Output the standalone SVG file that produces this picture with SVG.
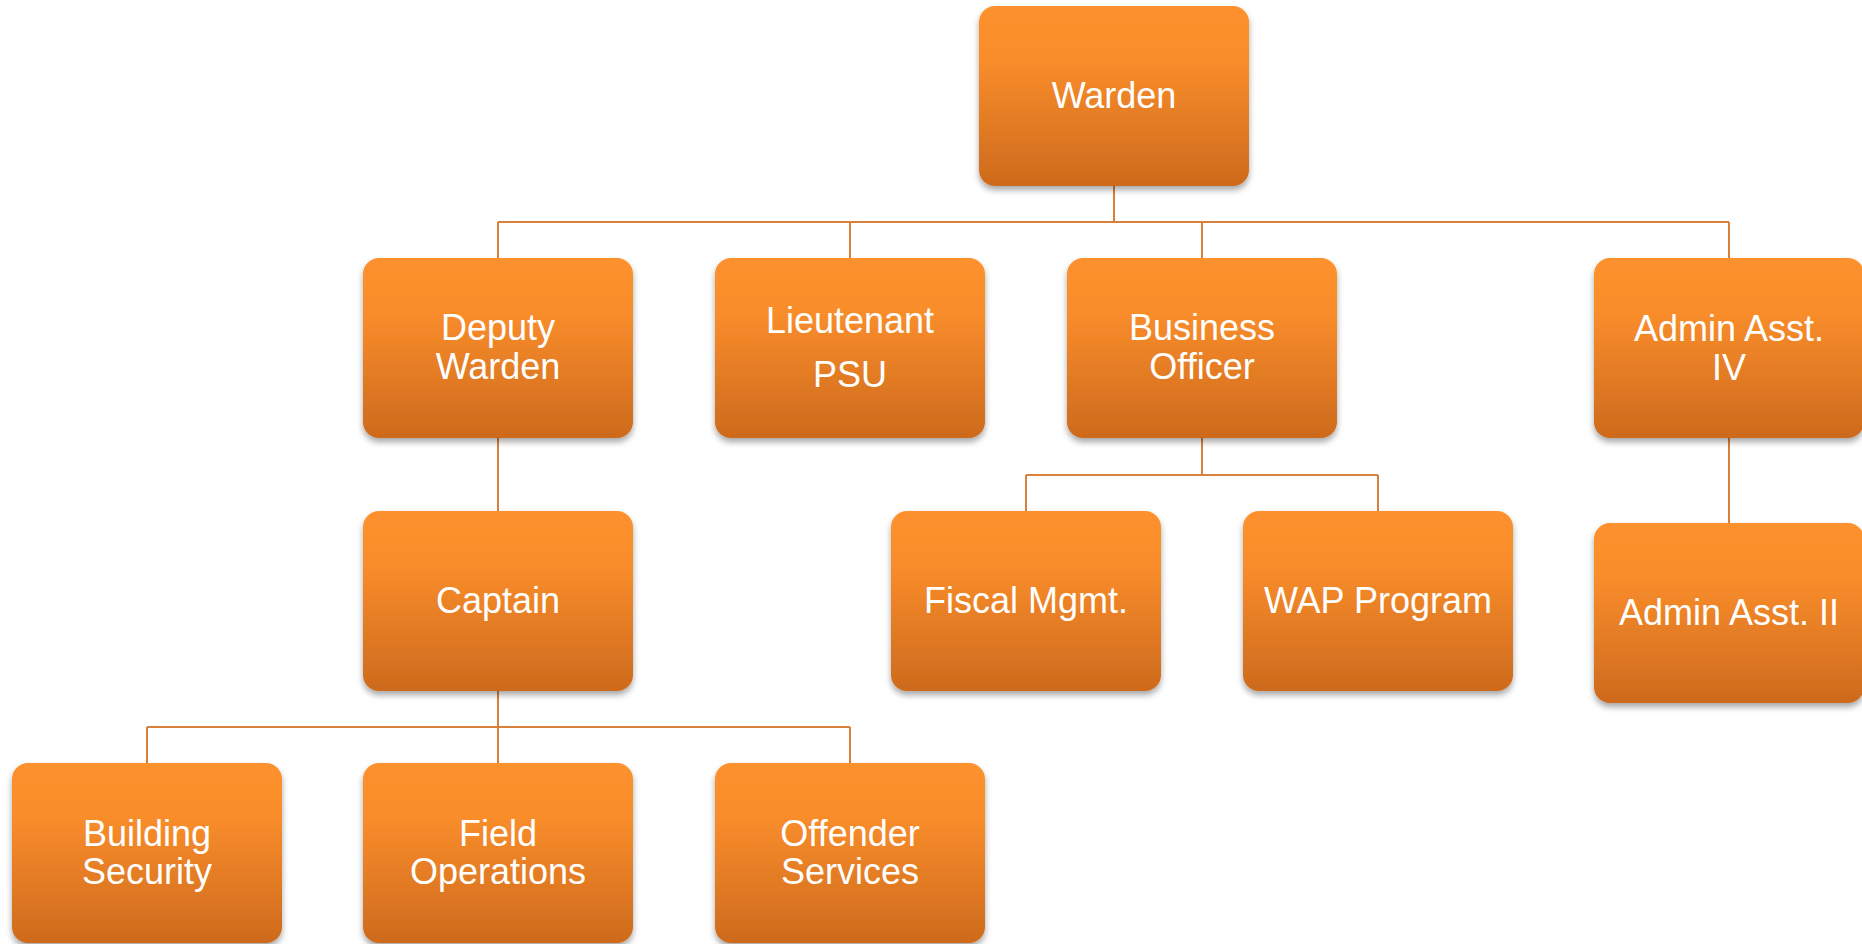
<svg xmlns="http://www.w3.org/2000/svg" width="1862" height="944" viewBox="0 0 1862 944">
<defs>
<linearGradient id="g" x1="0" y1="0" x2="0" y2="1">
<stop offset="0" stop-color="#FD912D"/>
<stop offset="0.3" stop-color="#F98D2B"/>
<stop offset="1" stop-color="#CD6A1D"/>
</linearGradient>
<filter id="sh" x="-10%" y="-10%" width="120%" height="125%">
<feDropShadow dx="0" dy="4" stdDeviation="3" flood-color="#000" flood-opacity="0.35"/>
</filter>
</defs>
<style>
.box{fill:url(#g);filter:url(#sh);}
.t{fill:#fff;font-family:"Liberation Sans",Arial,sans-serif;font-size:36px;text-anchor:middle;}
.c{fill:none;stroke:#D9803A;stroke-width:2;}
</style>
<rect width="1862" height="944" fill="#fff"/>
<g id="connectors">
<path class="c" d="M1114 186V222M498 222H1729M498 222V258M850 222V258M1202 222V258M1729 222V258"/>
<path class="c" d="M498 438V511"/>
<path class="c" d="M1202 438V475M1026 475H1378M1026 475V511M1378 475V511"/>
<path class="c" d="M1729 438V523"/>
<path class="c" d="M498 691V727M147 727H850M147 727V763M498 727V763M850 727V763"/>
</g>
<g id="warden"><rect class="box" x="979" y="6" width="270" height="180" rx="16"/><text class="t" x="1114" y="108">Warden</text></g>
<g id="deputy"><rect class="box" x="363" y="258" width="270" height="180" rx="16"/><text class="t" x="498" y="340">Deputy</text><text class="t" x="498" y="379">Warden</text></g>
<g id="lieutenant"><rect class="box" x="715" y="258" width="270" height="180" rx="16"/><text class="t" x="850" y="333">Lieutenant</text><text class="t" x="850" y="387">PSU</text></g>
<g id="business"><rect class="box" x="1067" y="258" width="270" height="180" rx="16"/><text class="t" x="1202" y="340">Business</text><text class="t" x="1202" y="379">Officer</text></g>
<g id="adminiv"><rect class="box" x="1594" y="258" width="270" height="180" rx="16"/><text class="t" x="1729" y="341">Admin Asst.</text><text class="t" x="1729" y="380">IV</text></g>
<g id="captain"><rect class="box" x="363" y="511" width="270" height="180" rx="16"/><text class="t" x="498" y="613">Captain</text></g>
<g id="fiscal"><rect class="box" x="891" y="511" width="270" height="180" rx="16"/><text class="t" x="1026" y="613">Fiscal Mgmt.</text></g>
<g id="wap"><rect class="box" x="1243" y="511" width="270" height="180" rx="16"/><text class="t" x="1378" y="613">WAP Program</text></g>
<g id="adminii"><rect class="box" x="1594" y="523" width="270" height="180" rx="16"/><text class="t" x="1729" y="625">Admin Asst. II</text></g>
<g id="building"><rect class="box" x="12" y="763" width="270" height="180" rx="16"/><text class="t" x="147" y="846">Building</text><text class="t" x="147" y="884">Security</text></g>
<g id="field"><rect class="box" x="363" y="763" width="270" height="180" rx="16"/><text class="t" x="498" y="846">Field</text><text class="t" x="498" y="884">Operations</text></g>
<g id="offender"><rect class="box" x="715" y="763" width="270" height="180" rx="16"/><text class="t" x="850" y="846">Offender</text><text class="t" x="850" y="884">Services</text></g>
</svg>
